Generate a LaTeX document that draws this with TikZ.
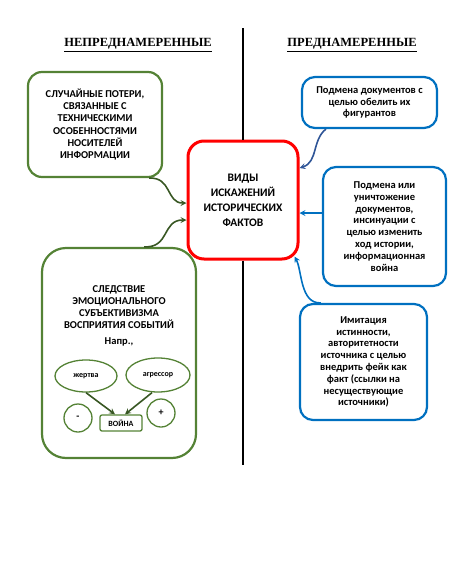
\documentclass[tikz,border=0pt]{standalone}
\usepackage{fontspec}
\setmainfont{Liberation Serif}
\newfontfamily\boxfnt{Carlito}
\usetikzlibrary{arrows,shapes}
\definecolor{grn}{RGB}{84,130,53}
\definecolor{dgrn}{RGB}{56,87,35}
\definecolor{blu}{RGB}{0,112,192}
\definecolor{dblu}{RGB}{47,85,151}
\tikzstyle{gcont}=[rectangle,rounded corners=14pt,draw=grn,line width=2.2pt,align=center,inner sep=0pt,font=\boxfnt\bfseries\fontsize{10.5}{12.2}\selectfont]
\tikzstyle{bcont}=[rectangle,rounded corners=13pt,draw=blu,line width=2.2pt,align=center,inner sep=0pt,font=\boxfnt\bfseries\fontsize{10.5}{11.8}\selectfont]
\tikzstyle{rcont}=[rectangle,rounded corners=16pt,draw=red,line width=3pt,align=center,inner sep=0pt,font=\boxfnt\bfseries\fontsize{11.5}{15}\selectfont]
\tikzstyle{ocont}=[ellipse,draw=grn,line width=1.3pt,inner sep=0pt,font=\boxfnt\bfseries\fontsize{8}{9}\selectfont]
\tikzstyle{head}=[font=\bfseries\fontsize{12.5}{14}\selectfont]
\tikzstyle{garrow}=[->,>=stealth,draw=dgrn,line width=1.6pt]
\tikzstyle{barrow}=[->,>=stealth,line width=1.6pt]

\begin{document}
\begin{tikzpicture}[x=1pt,y=-1pt]
\useasboundingbox (0,0) rectangle (453,562);
\node[head] (H1) at (138,45) {\underline{НЕПРЕДНАМЕРЕННЫЕ}};
\node[head] (H2) at (352,45) {\underline{ПРЕДНАМЕРЕННЫЕ}};
\node[rcont,minimum width=110pt,minimum height=118pt] (V) at (243,200) {ВИДЫ\\ИСКАЖЕНИЙ\\ИСТОРИЧЕСКИХ\\ФАКТОВ};
\coordinate (T) at (243,28);
\coordinate (B) at (243,465);
\draw[line width=1.6pt] (T)--(V.north);\draw[line width=1.6pt] (V.south)--(B);
\node[gcont,minimum width=134pt,minimum height=105pt] (G1) at (95,124.5) {СЛУЧАЙНЫЕ ПОТЕРИ,\\СВЯЗАННЫЕ С\\ТЕХНИЧЕСКИМИ\\ОСОБЕННОСТЯМИ\\НОСИТЕЛЕЙ\\ИНФОРМАЦИИ};
\node[gcont,rounded corners=24pt,minimum width=154pt,minimum height=210pt] (G2) at (119,353) {};
\node[font=\boxfnt\bfseries\fontsize{10.5}{12.2}\selectfont,align=center] (E) at (119,307) {СЛЕДСТВИЕ\\ЭМОЦИОНАЛЬНОГО\\СУБЪЕКТИВИЗМА\\ВОСПРИЯТИЯ СОБЫТИЙ};
\node[font=\boxfnt\bfseries\fontsize{10.5}{12}\selectfont] (N) at (119,342) {Напр.,};
\node[ocont,minimum width=62pt,minimum height=32pt] (J) at (86,376) {жертва};
\node[ocont,minimum width=64pt,minimum height=34pt] (A) at (158,375) {агрессор};
\node[ocont,circle,minimum size=28pt,font=\boxfnt\bfseries\fontsize{10}{11}\selectfont] (M) at (78,418) {-};
\node[ocont,circle,minimum size=28pt,font=\boxfnt\bfseries\fontsize{10}{11}\selectfont] (P) at (161,413) {+};
\node[ocont,rectangle,rounded corners=2pt,minimum width=42pt,minimum height=16pt] (W) at (121,423) {ВОЙНА};
\draw[garrow] (J.south)--([xshift=-6pt]W.north);\draw[garrow] ([xshift=-6pt]A.south)--([xshift=4pt]W.north);
\node[bcont,minimum width=135pt,minimum height=51pt] (B1) at (369.5,102.5) {Подмена документов с\\целью обелить их\\фигурантов};
\node[bcont,minimum width=123pt,minimum height=119pt] (B2) at (384.5,226.5) {Подмена или\\уничтожение\\документов,\\инсинуации с\\целью изменить\\ход истории,\\информационная\\война};
\node[bcont,minimum width=127pt,minimum height=116pt] (B3) at (363.5,362) {Имитация\\истинности,\\авторитетности\\источника с целью\\внедрить фейк как\\факт (ссылки на\\несуществующие\\источники)};
\draw[garrow] ([xshift=-14pt]G1.south east) .. controls (172,177) and (166,203) .. ([yshift=-3pt]V.west);
\draw[garrow] ([xshift=-53pt]G2.north east) .. controls (170,248) and (162,220) .. ([yshift=-20pt]V.west);
\draw[barrow,dblu] ([xshift=25pt]B1.south west) .. controls (312,140) and (318,162) .. ([yshift=32pt]V.east);
\draw[barrow,blu] ([yshift=13.5pt]B2.west)--([yshift=-13pt]V.east);
\draw[barrow,blu] ([xshift=22pt]B3.north west) .. controls (300,304) and (302,270) .. ([xshift=-5pt,yshift=4pt]V.south east);
\end{tikzpicture}
\end{document}
